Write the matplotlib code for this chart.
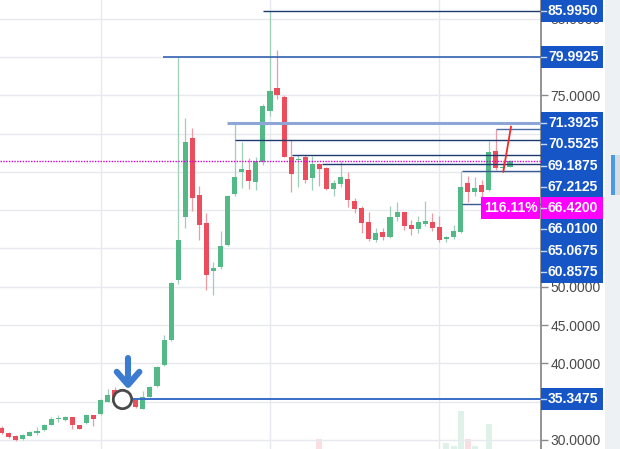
import matplotlib
matplotlib.use('Agg')
import matplotlib.pyplot as plt
from matplotlib.patches import Rectangle
from matplotlib.lines import Line2D

# ---------------- data ----------------
opens = [31.57, 30.95, 30.50, 30.10, 30.55, 30.90, 31.30, 31.95, 32.70, 32.60,
         32.95, 31.95, 32.20, 33.20, 33.40, 35.00, 36.50, 35.70, 35.50, 35.20,
         34.10, 35.65, 37.00, 39.80, 43.05, 50.90, 59.10, 69.40, 62.00, 58.30,
         52.10, 52.60, 55.45, 62.10, 65.00, 65.25, 63.70, 66.30, 73.00, 75.90,
         74.80, 67.00, 66.55, 66.95, 64.15, 66.05, 65.50, 62.75, 63.45, 64.05,
         61.25, 60.25, 58.50, 56.10, 57.10, 56.55, 59.05, 59.80, 58.05, 57.50,
         58.20, 58.50, 57.75, 56.20, 56.45, 57.20, 63.50, 62.40, 63.30, 62.65,
         67.75, 65.50, 65.70]
highs = [31.80, 31.10, 30.60, 30.75, 31.20, 31.70, 32.10, 33.00, 33.30, 33.10,
         33.00, 32.00, 33.35, 33.30, 35.30, 36.60, 36.90, 36.00, 35.80, 35.30,
         36.40, 37.10, 39.70, 43.70, 50.60, 79.9925, 72.00, 70.70, 63.20, 59.60,
         53.30, 57.30, 62.00, 71.3925, 68.90, 66.80, 67.00, 73.80, 85.995, 80.90,
         75.00, 69.10, 67.20, 67.20, 67.10, 66.10, 65.60, 63.90, 66.40, 65.00,
         61.60, 60.50, 59.80, 57.70, 57.70, 60.50, 61.10, 59.80, 58.70, 59.20,
         61.20, 59.60, 59.30, 56.60, 58.10, 65.0675, 64.40, 64.30, 64.00, 69.07,
         70.5525, 66.30, 66.60]
lows = [30.80, 30.30, 29.90, 30.00, 30.50, 30.70, 31.20, 31.90, 32.40, 32.50,
        31.50, 31.40, 32.10, 31.80, 33.30, 34.90, 35.50, 35.00, 35.00, 34.20,
        34.00, 35.60, 36.90, 39.70, 42.90, 50.30, 57.70, 59.90, 56.10, 49.60,
        48.90, 52.30, 55.30, 61.90, 62.90, 62.80, 62.60, 65.90, 72.30, 74.50,
        66.90, 62.40, 63.00, 63.50, 62.70, 63.10, 62.60, 61.80, 63.00, 60.40,
        59.60, 57.00, 56.00, 55.90, 56.10, 56.40, 58.60, 57.40, 56.70, 57.00,
        57.90, 57.30, 55.80, 55.90, 56.20, 57.00, 61.10, 61.80, 61.70, 62.50,
        65.30, 65.00, 65.60]
closes = [30.91, 30.43, 30.00, 30.65, 31.10, 31.20, 31.95, 32.75, 32.90, 32.95,
          31.95, 31.50, 33.25, 32.80, 35.20, 35.90, 35.65, 35.20, 35.20, 34.35,
          35.65, 36.95, 39.55, 43.05, 50.45, 56.10, 68.95, 61.55, 58.10, 51.55,
          52.40, 55.30, 61.85, 64.30, 65.40, 63.85, 66.45, 73.60, 75.60, 75.00,
          67.00, 64.70, 66.70, 63.95, 66.05, 65.35, 62.75, 63.50, 64.30, 61.35,
          60.10, 58.30, 56.20, 57.00, 56.55, 59.10, 59.80, 57.95, 57.50, 58.50,
          58.60, 57.65, 56.10, 56.45, 57.30, 63.00, 62.40, 62.85, 62.40, 67.65,
          65.45, 65.60, 66.42]
volume_index = [45, 63, 64, 65, 66, 67, 69]
volume_values = [10, 6, 3, 38, 10, 3, 25]

level_values = [85.9950, 79.9925, 71.3925, 70.5525, 69.1875, 67.2125,
                66.4200, 66.0100, 65.0675, 60.8575, 35.3475]
level_starts = [37.0, 22.8, 31.9, 70.0, 33.0, 41.1, None, 45.4, 65.2, 65.2, 18.3]
level_colors = ['#1e3a6e', '#3562b4', '#8ea6d6', '#4d6da8', '#1e3a6e', '#1e3a6e',
                '#d600d6', '#1e3a6e', '#3a5a92', '#3a5a92', '#3a6cc8']
level_widths = [1.0, 1.2, 2.2, 1.0, 1.0, 1.0, 1.0, 1.0, 1.0, 1.0, 1.4]
current_price = 66.42
change_text = '116.11%'
y_ticks = [30, 35, 40, 45, 50, 55, 60, 65, 70, 75, 80, 85]
y_tick_shown = [30, 40, 45, 50, 75, 85]
grid_x = [14, 38, 62]
trend_x = [71.05, 72.14]
trend_y = [65.03, 70.90]
marker_x = 16.97
marker_y = 35.35
arrow_x = [17.9, 17.9]
arrow_y = [40.7, 37.3]
arrow_head_x = [16.3, 17.9, 19.5]
arrow_head_y = [38.9, 37.2, 38.9]

# ---------------- figure ----------------
W, H = 620, 449
FONT = ['Liberation Sans', 'DejaVu Sans']
plt.rcParams['font.family'] = FONT

fig = plt.figure(figsize=(6.2, 4.49), dpi=100)
fig.patch.set_facecolor('white')
axpos = [0, 0, 541 / W, 1]
axv = fig.add_axes(axpos)
ax = fig.add_axes(axpos)
ax.set_zorder(2)
ax.patch.set_visible(False)

xlim = (-0.24, 76.39)
ylim = (28.825, 87.44)
ax.set_xlim(*xlim)
ax.set_ylim(*ylim)

# volume
axv.set_xlim(*xlim)
axv.set_ylim(0, 449)
vcol = []
for i in volume_index:
    vcol.append('#53b987' if closes[i] >= opens[i] else '#eb4d5c')
axv.bar(volume_index, volume_values, width=0.85, color=vcol, alpha=0.18)
axv.axis('off')

# grid / ticks
ax.set_yticks(y_ticks)
ax.set_yticklabels([f'{v:.4f}' if v in y_tick_shown else '' for v in y_ticks])
ax.set_xticks(grid_x)
ax.set_xticklabels([])
ax.grid(True, color='#e6eaef', lw=1.0)
ax.set_axisbelow(True)
ax.yaxis.tick_right()
ax.tick_params(axis='y', colors='#8a8a8a', labelcolor='#4a4a4a', length=5,
               width=1, pad=2, labelsize=10)
ax.tick_params(axis='x', length=0)
for s in ['top', 'left', 'bottom']:
    ax.spines[s].set_visible(False)
ax.spines['right'].set_color('#8a8a8a')
ax.spines['right'].set_linewidth(1.3)

# candles
up_body, dn_body = '#53b987', '#eb4d5c'
up_wick, dn_wick = '#9fcfb9', '#ef9aa4'
n = len(opens)
xs = list(range(n))
bcol, wcol, bot, hgt = [], [], [], []
for i in xs:
    up = closes[i] >= opens[i]
    bcol.append(up_body if up else dn_body)
    wcol.append(up_wick if up else dn_wick)
    bot.append(min(opens[i], closes[i]))
    hgt.append(max(abs(closes[i] - opens[i]), 0.12))
ax.vlines(xs, lows, highs, colors=wcol, lw=0.9, zorder=3)
ax.bar(xs, hgt, bottom=bot, width=0.72, color=bcol, zorder=4)

# horizontal levels
for v, s, c, w in zip(level_values, level_starts, level_colors, level_widths):
    if s is None:
        ax.axhline(v, color=c, lw=w, ls=(0, (1, 1)), zorder=5)
    else:
        ax.hlines(v, s, xlim[1], colors=c, lw=w, zorder=5)

# trend line
ax.plot(trend_x, trend_y, color='#f02a2a', lw=1.3, zorder=6)

# marker + arrow
ax.scatter([marker_x], [marker_y], s=175, facecolor='white', edgecolor='#4a4a4a',
           linewidth=2.0, zorder=7)
ax.plot(arrow_x, arrow_y, color='#3b7bd0', lw=4.4, solid_capstyle='round', zorder=7)
ax.plot(arrow_head_x, arrow_head_y, color='#3b7bd0', lw=4.4,
        solid_capstyle='round', solid_joinstyle='round', zorder=7)

# ---------------- right price labels ----------------
box_h = 21.3
x0, x1 = 541, 603
prev = -1e9
order = sorted(range(len(level_values)), key=lambda k: -level_values[k])
for k in order:
    v = level_values[k]
    yd = ax.transData.transform((0, v))[1]
    py = H - yd
    py = max(py, box_h / 2, prev + box_h)
    prev = py
    magenta = abs(v - current_price) < 1e-9
    fc = '#ff00ff' if magenta else '#1655c6'
    fig.add_artist(Rectangle((x0 / W, 1 - (py + box_h / 2) / H), (x1 - x0) / W,
                             box_h / H, transform=fig.transFigure, facecolor=fc,
                             edgecolor='none', zorder=5))
    fig.add_artist(Line2D([x0 / W, (x0 + 5) / W], [1 - py / H, 1 - py / H],
                          transform=fig.transFigure, color='#c9d6f2', lw=1, zorder=6))
    fig.text(548 / W, 1 - py / H, f'{v:.4f}', color='white', fontsize=10,
             fontweight='bold', ha='left', va='center', zorder=7, family=FONT)
    if magenta:
        fig.add_artist(Rectangle((481 / W, 1 - (py + box_h / 2) / H), 59 / W,
                                 box_h / H, transform=fig.transFigure,
                                 facecolor='#ff00ff', edgecolor='none', zorder=5))
        fig.text(510.5 / W, 1 - py / H, change_text, color='white', fontsize=10,
                 fontweight='bold', ha='center', va='center', zorder=7, family=FONT)

# side toolbar strip
fig.add_artist(Rectangle((605 / W, 0), 15 / W, 1, transform=fig.transFigure,
                         facecolor='#eef1f4', edgecolor='none', zorder=1))
fig.add_artist(Rectangle((611 / W, 1 - 195 / H), 4 / W, 40 / H,
                         transform=fig.transFigure, facecolor='#4a9be6',
                         edgecolor='none', zorder=2))
fig.add_artist(Rectangle((615 / W, 1 - 195 / H), 5 / W, 40 / H,
                         transform=fig.transFigure, facecolor='#d8dde3',
                         edgecolor='none', zorder=2))

fig.savefig('out.png', dpi=100)
